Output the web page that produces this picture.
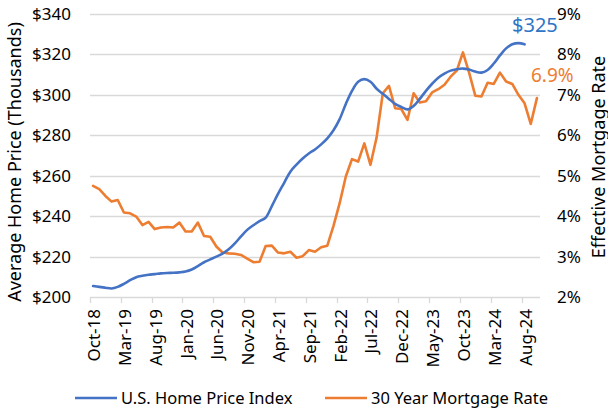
<!DOCTYPE html>
<html lang="en">

<head>
    <meta charset="UTF-8">
    <title>Home Price vs Mortgage Rate</title>
    <style>
        body {
            margin: 0;
            background: #fff;
        }

        svg text {
            font-family: "Noto Sans", "Open Sans", sans-serif;
            fill: #000;
        }

        .grid {
            stroke: #d9d9d9;
            stroke-width: 1.3;
        }

        .line {
            fill: none;
            stroke-width: 2.6;
            stroke-linejoin: round;
            stroke-linecap: round;
        }
    </style>
</head>

<body>
    <script src="https://d3js.org/d3.v7.min.js"></script>
    <script>
        // Categories, monthly from Oct-18.
        const months = [
            'Oct-18', 'Nov-18', 'Dec-18', 'Jan-19', 'Feb-19', 'Mar-19', 'Apr-19', 'May-19', 'Jun-19', 'Jul-19',
            'Aug-19', 'Sep-19', 'Oct-19', 'Nov-19', 'Dec-19', 'Jan-20', 'Feb-20', 'Mar-20', 'Apr-20', 'May-20',
            'Jun-20', 'Jul-20', 'Aug-20', 'Sep-20', 'Oct-20', 'Nov-20', 'Dec-20', 'Jan-21', 'Feb-21', 'Mar-21',
            'Apr-21', 'May-21', 'Jun-21', 'Jul-21', 'Aug-21', 'Sep-21', 'Oct-21', 'Nov-21', 'Dec-21', 'Jan-22',
            'Feb-22', 'Mar-22', 'Apr-22', 'May-22', 'Jun-22', 'Jul-22', 'Aug-22', 'Sep-22', 'Oct-22', 'Nov-22',
            'Dec-22', 'Jan-23', 'Feb-23', 'Mar-23', 'Apr-23', 'May-23', 'Jun-23', 'Jul-23', 'Aug-23', 'Sep-23',
            'Oct-23', 'Nov-23', 'Dec-23', 'Jan-24', 'Feb-24', 'Mar-24', 'Apr-24', 'May-24', 'Jun-24', 'Jul-24',
            'Aug-24', 'Sep-24', 'Oct-24'
        ];

        // U.S. Home Price Index, average home price ($ thousands), through Aug-24.
        const homePrice = [
            205.4, 205.0, 204.6, 204.2, 205.0, 206.5, 208.3, 209.8, 210.5, 211.0,
            211.3, 211.7, 211.9, 212.0, 212.2, 212.6, 213.6, 215.3, 217.2, 218.6,
            220.0, 221.5, 223.6, 226.5, 230.0, 233.2, 235.5, 237.5, 239.3, 245.0,
            251.0, 256.5, 262.0, 265.5, 268.5, 271.0, 273.0, 275.5, 278.5, 282.5,
            288.0, 295.5, 302.0, 306.5, 307.8, 306.5, 303.0, 300.5, 298.0, 295.5,
            294.0, 292.8, 294.5, 298.0, 302.0, 305.5, 308.5, 310.5, 312.0, 312.7,
            313.0, 312.5, 311.5, 311.0, 312.3, 315.5, 319.5, 323.0, 325.0, 325.6,
            325.0
        ];

        // 30 year mortgage rate (%), through Oct-24.
        const mortgageRate = [
            4.75, 4.67, 4.50, 4.36, 4.40, 4.09, 4.07, 3.99, 3.78, 3.86,
            3.68, 3.72, 3.73, 3.72, 3.84, 3.62, 3.62, 3.84, 3.51, 3.49,
            3.25, 3.10, 3.08, 3.07, 3.04, 2.95, 2.86, 2.87, 3.26, 3.27,
            3.10, 3.08, 3.12, 2.97, 3.01, 3.16, 3.12, 3.23, 3.27, 3.76,
            4.32, 4.98, 5.41, 5.35, 5.80, 5.27, 5.95, 7.04, 7.22, 6.67,
            6.65, 6.38, 7.04, 6.81, 6.84, 7.06, 7.14, 7.25, 7.45, 7.60,
            8.05, 7.55, 6.98, 6.96, 7.30, 7.27, 7.55, 7.33, 7.27, 7.00,
            6.79, 6.28, 6.92
        ];

        const priceTicks = [200, 220, 240, 260, 280, 300, 320, 340];
        const rateTicks = [2, 3, 4, 5, 6, 7, 8, 9];

        const width = 608;
        const height = 410;
        const plot = { left: 90, right: 540, top: 14, bottom: 297 };

        const blue = '#4472c4';
        const orange = '#ed7d31';

        const svg = d3
            .select('body')
            .append('svg')
            .attr('width', width)
            .attr('height', height);

        // Scales.
        const xScale = d3
            .scaleBand()
            .domain(months)
            .range([plot.left, plot.right])
            .padding(0);

        const xMid = (m) => xScale(m) + xScale.bandwidth() / 2;

        const yScaleLeft = d3
            .scaleLinear()
            .domain([200, 340])
            .range([plot.bottom, plot.top]);

        const yScaleRight = d3
            .scaleLinear()
            .domain([2, 9])
            .range([plot.bottom, plot.top]);

        // Gridlines (the bottom one doubles as the x axis line).
        svg
            .append('g')
            .selectAll('line')
            .data(priceTicks)
            .join('line')
            .attr('class', 'grid')
            .attr('x1', plot.left)
            .attr('x2', plot.right)
            .attr('y1', (d) => Math.round(yScaleLeft(d)) + 0.5)
            .attr('y2', (d) => Math.round(yScaleLeft(d)) + 0.5);

        // X axis ticks every 5 months, at the category boundaries.
        const labelMonths = months.filter((m, i) => i % 5 === 0);

        svg
            .append('g')
            .selectAll('line')
            .data(labelMonths)
            .join('line')
            .attr('class', 'grid')
            .attr('x1', (d) => Math.round(xScale(d)) + 0.5)
            .attr('x2', (d) => Math.round(xScale(d)) + 0.5)
            .attr('y1', plot.bottom)
            .attr('y2', plot.bottom + 6);

        svg
            .append('g')
            .selectAll('text')
            .data(labelMonths)
            .join('text')
            .attr('transform', (d) => `translate(${xMid(d) + 1},${plot.bottom + 12}) rotate(-90)`)
            .attr('text-anchor', 'end')
            .attr('dy', '0.35em')
            .style('font-size', '17px')
            .text((d) => d);

        // Left axis labels.
        svg
            .append('g')
            .selectAll('text')
            .data(priceTicks)
            .join('text')
            .attr('x', 71)
            .attr('y', (d) => yScaleLeft(d))
            .attr('dy', '0.35em')
            .attr('text-anchor', 'end')
            .style('font-size', '17px')
            .text((d) => '$' + d);

        // Right axis labels.
        svg
            .append('g')
            .selectAll('text')
            .data(rateTicks)
            .join('text')
            .attr('x', 557)
            .attr('y', (d) => yScaleRight(d))
            .attr('dy', '0.35em')
            .attr('text-anchor', 'start')
            .style('font-size', '17px')
            .text((d) => d + '%');

        // Axis titles.
        svg
            .append('text')
            .attr('transform', 'translate(15,162) rotate(-90)')
            .attr('text-anchor', 'middle')
            .attr('dy', '0.35em')
            .style('font-size', '18px')
            .text('Average Home Price (Thousands)');

        svg
            .append('text')
            .attr('transform', 'translate(599,157) rotate(-90)')
            .attr('text-anchor', 'middle')
            .attr('dy', '0.35em')
            .style('font-size', '18px')
            .text('Effective Mortgage Rate');

        // Lines.
        const priceLine = d3
            .line()
            .x((d, i) => xMid(months[i]))
            .y((d) => yScaleLeft(d))
            .curve(d3.curveCatmullRom.alpha(0.5));

        const rateLine = d3
            .line()
            .x((d, i) => xMid(months[i]))
            .y((d) => yScaleRight(d));

        svg
            .append('path')
            .datum(mortgageRate)
            .attr('class', 'line')
            .attr('stroke', orange)
            .attr('d', rateLine);

        svg
            .append('path')
            .datum(homePrice)
            .attr('class', 'line')
            .attr('stroke', blue)
            .attr('d', priceLine);

        // End-value callouts.
        svg
            .append('text')
            .attr('x', 512)
            .attr('y', 25)
            .attr('dy', '0.35em')
            .style('font-size', '20px')
            .style('fill', '#2e75c6')
            .text('$' + Math.round(homePrice[homePrice.length - 1]));

        svg
            .append('text')
            .attr('x', 531)
            .attr('y', 75)
            .attr('dy', '0.35em')
            .style('font-size', '19px')
            .style('fill', orange)
            .text(mortgageRate[mortgageRate.length - 1].toFixed(1) + '%');

        // Legend.
        const legendItems = [
            { label: 'U.S. Home Price Index', color: blue, x: 75 },
            { label: '30 Year Mortgage Rate', color: orange, x: 325 }
        ];

        const legend = svg
            .append('g')
            .selectAll('g')
            .data(legendItems)
            .join('g')
            .attr('transform', (d) => `translate(${d.x},398)`);

        legend
            .append('line')
            .attr('x1', 0)
            .attr('x2', 42)
            .attr('stroke', (d) => d.color)
            .attr('stroke-width', 2.6);

        legend
            .append('text')
            .attr('x', 46)
            .attr('dy', '0.35em')
            .style('font-size', '16.5px')
            .text((d) => d.label);
    </script>
</body>

</html>
